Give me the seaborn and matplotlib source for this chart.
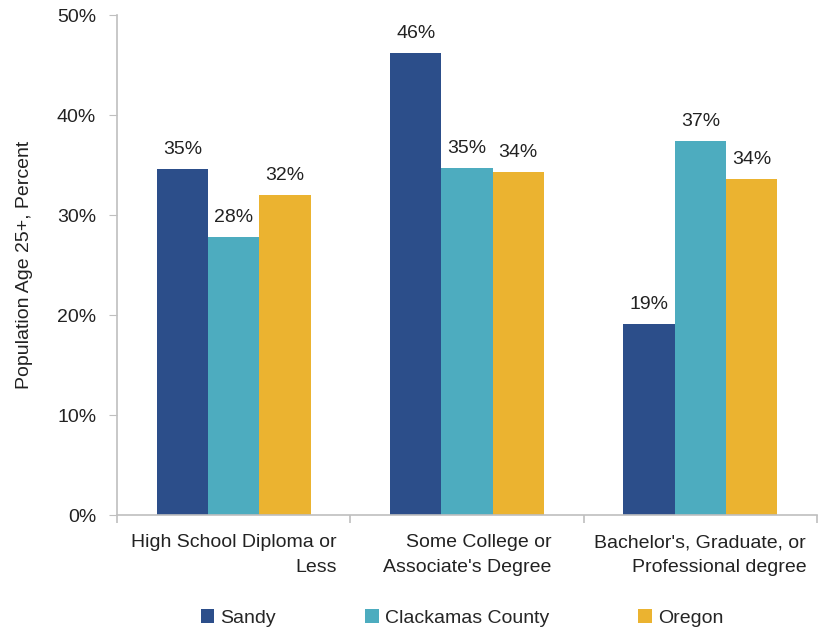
import matplotlib
matplotlib.use("Agg")
import matplotlib.pyplot as plt
import seaborn as sns
import pandas as pd
from matplotlib.ticker import FuncFormatter, FixedLocator
from matplotlib.patches import Patch

categories = ["High School Diploma or\nLess", "Some College or\nAssociate's Degree",
              "Bachelor's, Graduate, or\nProfessional degree"]
series = ["Sandy", "Clackamas County", "Oregon"]
sandy = [34.6, 46.2, 19.1]
clackamas = [27.8, 34.7, 37.4]
oregon = [32.0, 34.3, 33.6]
colors = ["#2C4E8A", "#4DACBF", "#EBB330"]

rows = []
for s, vals in zip(series, [sandy, clackamas, oregon]):
    for c, v in zip(categories, vals):
        rows.append({"Category": c, "Series": s, "Value": v})
df = pd.DataFrame(rows)

sns.set_style("white")
plt.rcParams['font.family'] = ['Liberation Sans', 'DejaVu Sans']
FS = 14

fig = plt.figure(figsize=(8.2, 6.32), dpi=100)
ax = fig.add_axes([117/820, 1 - 515/632, 700/820, 500/632])

sns.barplot(data=df, x="Category", y="Value", hue="Series", order=categories,
            hue_order=series, palette=colors, width=0.66, gap=0, ax=ax,
            errorbar=None, legend=False, saturation=1, linewidth=0)

for cont in ax.containers:
    ax.bar_label(cont, labels=[f"{round(v.get_height()):.0f}%" for v in cont],
                 padding=8, fontsize=FS, color="#222222")

ax.set_ylim(0, 50)
ax.set_xlim(-0.5, 2.5)
ax.yaxis.set_major_locator(FixedLocator([0, 10, 20, 30, 40, 50]))
ax.yaxis.set_major_formatter(FuncFormatter(lambda v, p: f"{v:.0f}%"))
ax.set_ylabel("Population Age 25+, Percent", fontsize=FS, color="#222222", labelpad=17)
ax.set_xlabel("")

for sp in ["top", "right"]:
    ax.spines[sp].set_visible(False)
for sp in ["left", "bottom"]:
    ax.spines[sp].set_color("#BFBFBF")
    ax.spines[sp].set_linewidth(1.2)

ax.tick_params(axis="y", length=6, color="#BFBFBF", labelsize=FS, labelcolor="#222222", pad=9, left=True)
ax.set_xticks([0, 1, 2])
ax.set_xticklabels(categories, fontsize=FS, color="#222222", ha="center",
                   multialignment="right", linespacing=1.55)
ax.tick_params(axis="x", length=0, pad=14)
ax.set_xticks([-0.5, 0.5, 1.5, 2.5], minor=True)
ax.tick_params(axis="x", which="minor", length=6, color="#BFBFBF", width=1.2, bottom=True)

handles = [Patch(facecolor=c, edgecolor="none") for c in colors]
fig.legend(handles, series, loc="center", bbox_to_anchor=(462/820, 1 - 618/632), ncol=3,
           frameon=False, fontsize=FS, handlelength=0.7, handleheight=0.7,
           handletextpad=0.3, columnspacing=4.6)

fig.savefig("out.png", dpi=100)
